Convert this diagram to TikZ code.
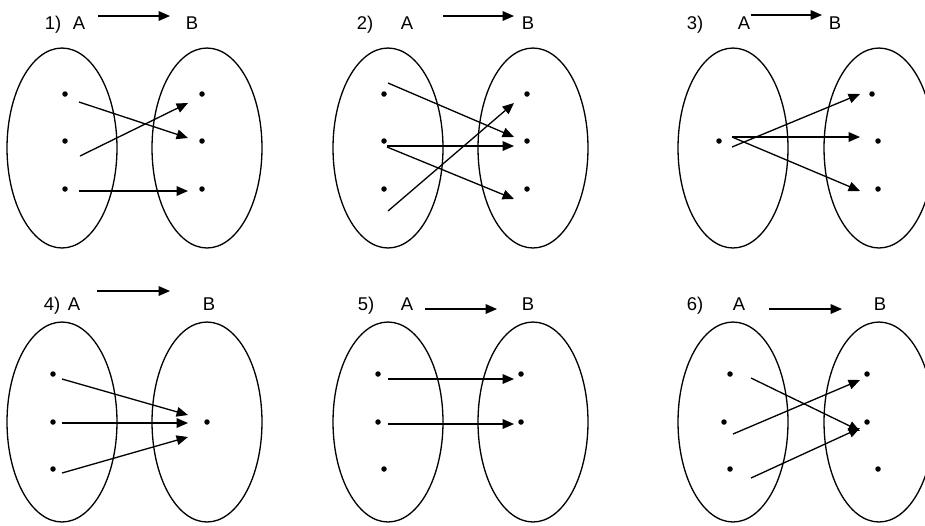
\documentclass[tikz,border=0pt]{standalone}
\usepackage{fontspec}
\setmainfont{Liberation Sans}
\usetikzlibrary{arrows.meta, shapes.geometric}

\begin{document}
\begin{tikzpicture}[
    x=0.02cm, y=-0.02cm,
    set/.style={
        ellipse,
        draw,
        line width=0.75pt,
        minimum width=2.2cm,
        minimum height=4cm,
        inner sep=0pt
    },
    elem/.style={
        circle,
        fill=black,
        inner sep=0pt,
        minimum size=0.11cm
    },
    lab/.style={
        anchor=base,
        inner sep=0pt,
        font=\fontsize{10.5}{12}\selectfont
    },
    line/.style={
        draw,
        -{Triangle[length=6.5pt, width=5.5pt]},
        line width=0.75pt
    }
]
    \useasboundingbox (0,0) rectangle (925,525);
    \clip (0,0) rectangle (925,525);

    % 1)
    \node [lab] (p1num) at (53,29) {1)};
    \node [lab] (p1labA) at (79,29) {A};
    \node [lab] (p1labB) at (192,29) {B};
    \draw [line] ([shift={(19,-13)}]p1labA.base) -- ([shift={(-22,-13)}]p1labB.base);
    \node [set] (p1A) at (62,148) {};
    \node [set] (p1B) at (207,148) {};
    \node [elem] (p1a1) at (65,94) {};
    \node [elem] (p1a2) at (65,141) {};
    \node [elem] (p1a3) at (65,189) {};
    \node [elem] (p1b1) at (202,94) {};
    \node [elem] (p1b2) at (202,141) {};
    \node [elem] (p1b3) at (202,189) {};
    \draw [line] ([shift={(14,8)}]p1a1.center) -- ([shift={(-14,-3)}]p1b2.center);
    \draw [line] ([shift={(15,15)}]p1a2.center) -- ([shift={(-14,9)}]p1b1.center);
    \draw [line] ([shift={(14,2)}]p1a3.center) -- ([shift={(-14,2)}]p1b3.center);

    % 2)
    \node [lab] (p2num) at (365,29) {2)};
    \node [lab] (p2labA) at (407,29) {A};
    \node [lab] (p2labB) at (528,29) {B};
    \draw [line] ([shift={(36,-13)}]p2labA.base) -- ([shift={(-14,-13)}]p2labB.base);
    \node [set] (p2A) at (388,148) {};
    \node [set] (p2B) at (533,148) {};
    \node [elem] (p2a1) at (384,94) {};
    \node [elem] (p2a2) at (384,141) {};
    \node [elem] (p2a3) at (384,189) {};
    \node [elem] (p2b1) at (527,94) {};
    \node [elem] (p2b2) at (527,141) {};
    \node [elem] (p2b3) at (527,189) {};
    \draw [line] ([shift={(4,-11)}]p2a1.center) -- ([shift={(-13,-4)}]p2b2.center);
    \draw [line] ([shift={(3,5)}]p2a2.center) -- ([shift={(-13,5)}]p2b2.center);
    \draw [line] ([shift={(3,6)}]p2a2.center) -- ([shift={(-13,10)}]p2b3.center);
    \draw [line] ([shift={(4,22)}]p2a3.center) -- ([shift={(-13,9)}]p2b1.center);

    % 3)
    \node [lab] (p3num) at (695,29) {3)};
    \node [lab] (p3labA) at (744,29) {A};
    \node [lab] (p3labB) at (835,29) {B};
    \draw [line] ([shift={(7,-14)}]p3labA.base) -- ([shift={(-13,-14)}]p3labB.base);
    \node [set] (p3A) at (733,148) {};
    \node [set] (p3B) at (879,148) {};
    \node [elem] (p3a1) at (719,141) {};
    \node [elem] (p3b1) at (872,94) {};
    \node [elem] (p3b2) at (878,141) {};
    \node [elem] (p3b3) at (878,189) {};
    \draw [line] ([shift={(13,6)}]p3a1.center) -- ([shift={(-12,0)}]p3b1.center);
    \draw [line] ([shift={(13,-4)}]p3a1.center) -- ([shift={(-18,-4)}]p3b2.center);
    \draw [line] ([shift={(13,-4)}]p3a1.center) -- ([shift={(-18,2)}]p3b3.center);

    % 4)
    \node [lab] (p4num) at (52,310) {4)};
    \node [lab] (p4labA) at (74,310) {A};
    \node [lab] (p4labB) at (209,310) {B};
    \draw [line] ([shift={(23,-19)}]p4labA.base) -- ([shift={(-39,-19)}]p4labB.base);
    \node [set] (p4A) at (62,422) {};
    \node [set] (p4B) at (207,422) {};
    \node [elem] (p4a1) at (53,374) {};
    \node [elem] (p4a2) at (53,422) {};
    \node [elem] (p4a3) at (53,469) {};
    \node [elem] (p4b1) at (207,422) {};
    \draw [line] ([shift={(9,5)}]p4a1.center) -- ([shift={(-19,-7)}]p4b1.center);
    \draw [line] ([shift={(9,1)}]p4a2.center) -- ([shift={(-19,1)}]p4b1.center);
    \draw [line] ([shift={(9,4)}]p4a3.center) -- ([shift={(-19,15)}]p4b1.center);

    % 5)
    \node [lab] (p5num) at (366,310) {5)};
    \node [lab] (p5labA) at (407,310) {A};
    \node [lab] (p5labB) at (528,310) {B};
    \draw [line] ([shift={(18,-1)}]p5labA.base) -- ([shift={(-31,-1)}]p5labB.base);
    \node [set] (p5A) at (388,422) {};
    \node [set] (p5B) at (533,422) {};
    \node [elem] (p5a1) at (378,374) {};
    \node [elem] (p5a2) at (378,422) {};
    \node [elem] (p5a3) at (384,469) {};
    \node [elem] (p5b1) at (521,374) {};
    \node [elem] (p5b2) at (521,422) {};
    \draw [line] ([shift={(10,5)}]p5a1.center) -- ([shift={(-7,5)}]p5b1.center);
    \draw [line] ([shift={(10,2)}]p5a2.center) -- ([shift={(-7,2)}]p5b2.center);

    % 6)
    \node [lab] (p6num) at (695,310) {6)};
    \node [lab] (p6labA) at (739,310) {A};
    \node [lab] (p6labB) at (880,310) {B};
    \draw [line] ([shift={(30,-1)}]p6labA.base) -- ([shift={(-38,-1)}]p6labB.base);
    \node [set] (p6A) at (733,422) {};
    \node [set] (p6B) at (879,422) {};
    \node [elem] (p6a1) at (730,374) {};
    \node [elem] (p6a2) at (724,422) {};
    \node [elem] (p6a3) at (730,469) {};
    \node [elem] (p6b1) at (867,374) {};
    \node [elem] (p6b2) at (867,422) {};
    \node [elem] (p6b3) at (878,469) {};
    \draw [line] ([shift={(21,4)}]p6a1.center) -- ([shift={(-7,9)}]p6b2.center);
    \draw [line] ([shift={(9,12)}]p6a2.center) -- ([shift={(-7,6)}]p6b1.center);
    \draw [line] ([shift={(21,9)}]p6a3.center) -- ([shift={(-7,6)}]p6b2.center);

\end{tikzpicture}
\end{document}
